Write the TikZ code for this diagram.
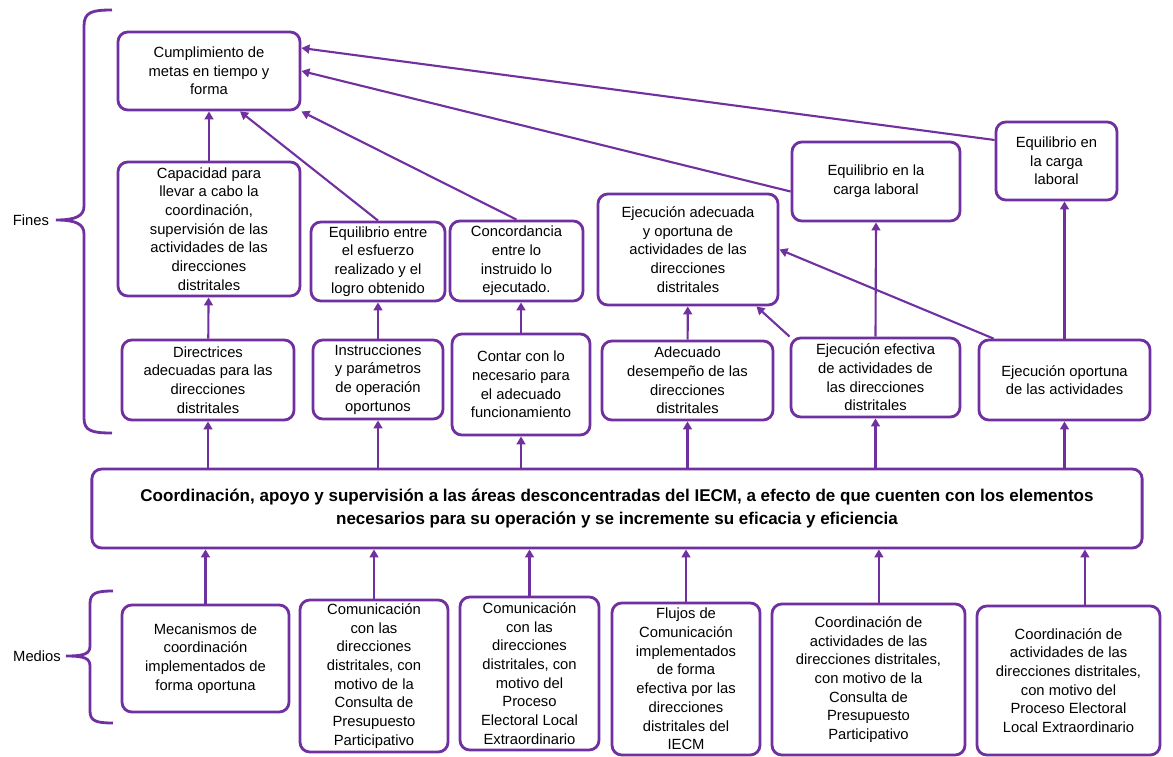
\documentclass[tikz,border=0pt]{standalone}
\usepackage{fontspec}
\setmainfont{Liberation Sans}
\usetikzlibrary{arrows.meta, positioning, calc}
\definecolor{violet1}{HTML}{7030A0}
\tikzset{
  box/.style={rectangle, rounded corners=7pt, draw=violet1, line width=2pt, fill=white,
    align=center, inner sep=2pt, font=\fontsize{10.5}{13.3}\selectfont},
  boxmain/.style={box, font=\fontsize{12.1}{16.4}\selectfont\bfseries},
  arrow/.style={-{Triangle[length=2mm, width=2.2mm]}, line width=1.5pt, violet1},
  bracket/.style={line width=2pt, violet1},
  sidelabel/.style={font=\fontsize{10.5}{13}\selectfont},
}

\begin{document}
\begin{tikzpicture}[x=0.025cm, y=-0.025cm]
\useasboundingbox (0,0) rectangle (1173,757);

% fines
\node[box, minimum width=4.55cm, minimum height=1.95cm] (cumpl) at (209,71) {Cumplimiento de\\metas en tiempo y\\forma};
\node[box, minimum width=4.55cm, minimum height=3.35cm] (capac) at (209,229) {Capacidad para\\llevar a cabo la\\coordinación,\\supervisión de las\\actividades de las\\direcciones\\distritales};
\node[box, minimum width=3.35cm, minimum height=1.975cm] (equil) at (378,261.5) {Equilibrio entre\\el esfuerzo\\realizado y el\\logro obtenido};
\node[box, minimum width=3.325cm, minimum height=2cm] (conc) at (516.5,261) {Concordancia\\entre lo\\instruido lo\\ejecutado.};
\node[box, minimum width=4.5cm, minimum height=2.775cm] (ejecad) at (688,249.5) {Ejecución adecuada\\y oportuna de\\actividades de las\\direcciones\\distritales};
\node[box, minimum width=4.2cm, minimum height=1.975cm] (carga1) at (876,181.5) {Equilibrio en la\\carga laboral};
\node[box, minimum width=3.025cm, minimum height=1.95cm] (carga2) at (1056.5,161) {Equilibrio en\\la carga\\laboral};

\node[box, minimum width=4.3cm, minimum height=2cm] (direct) at (208,380) {Directrices\\adecuadas para las\\direcciones\\distritales};
\node[box, minimum width=3.25cm, minimum height=1.975cm] (instr) at (378,379.5) {Instrucciones\\y parámetros\\de operación\\oportunos};
\node[box, minimum width=3.45cm, minimum height=2.525cm] (contar) at (521,384.5) {Contar con lo\\necesario para\\el adecuado\\funcionamiento};
\node[box, minimum width=4.275cm, minimum height=1.975cm] (adec) at (687.5,380.5) {Adecuado\\desempeño de las\\direcciones\\distritales};
\node[box, minimum width=4.225cm, minimum height=1.975cm] (ejefec) at (875.5,377.5) {Ejecución efectiva\\de actividades de\\las direcciones\\distritales};
\node[box, minimum width=4.275cm, minimum height=2cm] (ejeop) at (1064.5,380) {Ejecución oportuna\\de las actividades};

% problema central
\node[boxmain, minimum width=26.25cm, minimum height=1.975cm] (central) at (617,508.5) {Coordinación, apoyo y supervisión a las áreas desconcentradas del IECM, a efecto de que cuenten con los elementos\\necesarios para su operación y se incremente su eficacia y eficiencia};

% medios
\node[box, minimum width=4.175cm, minimum height=2.675cm] (mecan) at (205.5,658.5) {Mecanismos de\\coordinación\\implementados de\\forma oportuna};
\node[box, minimum width=3.7cm, minimum height=3.8cm] (com1) at (374,676) {Comunicación\\con las\\direcciones\\distritales, con\\motivo de la\\Consulta de\\Presupuesto\\Participativo};
\node[box, minimum width=3.475cm, minimum height=3.825cm] (com2) at (529.5,673.5) {Comunicación\\con las\\direcciones\\distritales, con\\motivo del\\Proceso\\Electoral Local\\Extraordinario};
\node[box, minimum width=3.7cm, minimum height=3.8cm] (flujos) at (686,679) {Flujos de\\Comunicación\\implementados\\de forma\\efectiva por las\\direcciones\\distritales del\\IECM};
\node[box, minimum width=4.825cm, minimum height=3.775cm] (coord1) at (868.5,679.5) {Coordinación de\\actividades de las\\direcciones distritales,\\con motivo de la\\Consulta de\\Presupuesto\\Participativo};
\node[box, minimum width=4.575cm, minimum height=3.725cm] (coord2) at (1068.5,680.5) {Coordinación de\\actividades de las\\direcciones distritales,\\con motivo del\\Proceso Electoral\\Local Extraordinario};

% llaves
\node[sidelabel] (fines) at (31,220) {Fines};
\node[sidelabel] (medios) at (37,656) {Medios};
\draw[bracket] (112,10) .. controls (92,10) and (84,12) .. (84,26) -- (84,206)
  .. controls (84,216) and (76,220) .. (56,220) .. controls (76,220) and (84,224) .. (84,234)
  -- (84,418) .. controls (84,431) and (92,433) .. (112,433);
\draw[bracket] (113,591) .. controls (96,591) and (90,593) .. (90,604) -- (90,646)
  .. controls (90,654) and (84,656) .. (66,656) .. controls (84,656) and (90,658) .. (90,666)
  -- (90,711) .. controls (90,721) and (96,723) .. (113,723);

% medios -> problema
\foreach \n in {mecan, com1, com2, flujos}
  \draw[arrow] (\n.north) -- (\n.north |- central.south);
\draw[arrow] ([xshift=2.6mm]coord1.north) -- ([xshift=2.6mm]coord1.north |- central.south);
\draw[arrow] ([xshift=4.1mm]coord2.north) -- ([xshift=4.1mm]coord2.north |- central.south);

% problema -> fines
\foreach \n in {direct, instr, contar, adec, ejefec, ejeop}
  \draw[arrow] (\n |- central.north) -- (\n.south);

\draw[arrow] (direct) -- (capac);
\draw[arrow] (instr) -- (equil);
\draw[arrow] (contar.north) -- (contar.north |- conc.south);
\draw[arrow] (adec) -- (ejecad);
\draw[arrow] (ejefec.north) -- (carga1.south);
\draw[arrow] (ejeop.north) -- (ejeop.north |- carga2.south);
\draw[arrow] (ejefec.north west) -- ($(ejecad.south east)+(-23,0)$);
\draw[arrow] ($(ejeop.north west)+(16,0)$) -- (ejecad.east);

\draw[arrow] (capac) -- (cumpl);
\draw[arrow] (equil.north) -- ($(cumpl.south)+(31,0)$);
\draw[arrow] (conc.north) -- (cumpl.south east);
\draw[arrow] ($(carga1.west)+(0,10)$) -- (cumpl.east);
\draw[arrow] ($(carga2.west)+(0,-21)$) -- ($(cumpl.east)+(0,-23)$);
\end{tikzpicture}
\end{document}
